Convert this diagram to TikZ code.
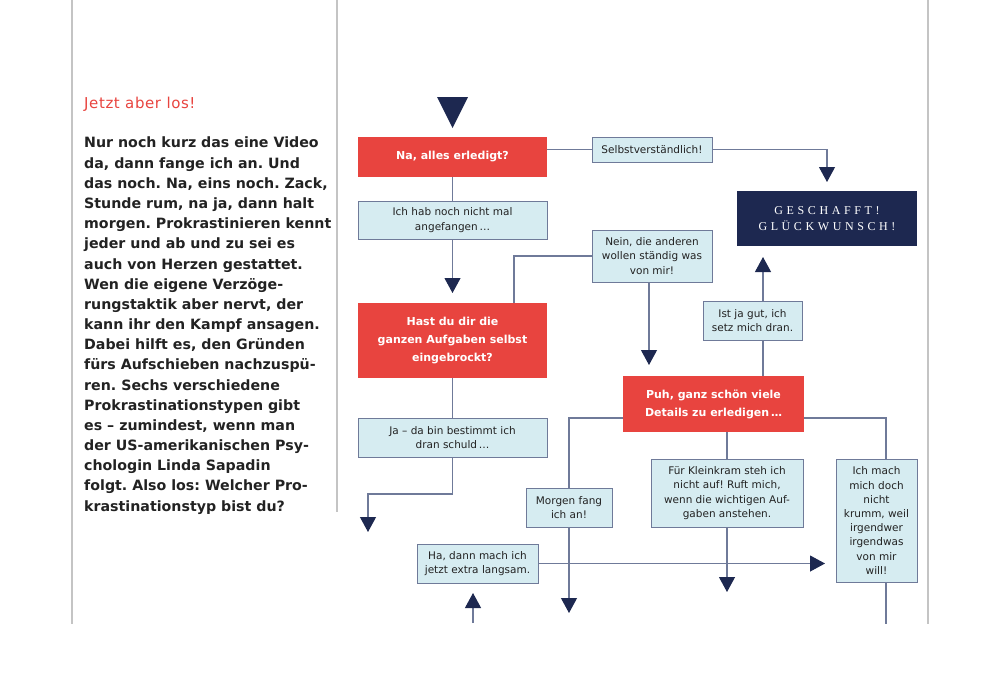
\documentclass[tikz,border=0pt]{standalone}
\usepackage{fontspec}
\setmainfont{DejaVu Sans}
\newfontfamily\capsserif[LetterSpace=30]{Liberation Serif}
\usetikzlibrary{arrows.meta, positioning}
\definecolor{alarm}{HTML}{E8443F}
\definecolor{pale}{HTML}{D6ECF1}
\definecolor{edge}{HTML}{6F7A99}
\definecolor{navy}{HTML}{1D2850}
\definecolor{rule}{HTML}{C4C4C4}
\definecolor{ink}{HTML}{222222}
\frenchspacing

\begin{document}
\begin{tikzpicture}[
      x=1pt, y=-1pt,
      box/.style={inner sep=0pt, outer sep=0pt, align=center},
      reply/.style={box, draw=edge, line width=1pt, fill=pale, text=ink,
        font=\fontsize{10.5}{14.2}\selectfont},
      ask/.style={box, fill=alarm, text=white,
        font=\bfseries\fontsize{11}{18}\selectfont},
      goal/.style={box, fill=navy, text=white,
        font=\capsserif\fontsize{12}{16}\selectfont},
      link/.style={draw=edge, line width=1.1pt},
      arr/.style={link, -{Triangle[width=16pt, length=15pt, color=navy]}},
      frame/.style={draw=rule, line width=1.2pt},
    ]
    \useasboundingbox (0,0) rectangle (1000,694);
    \foreach \x/\y in {72/624, 337/512, 928/624}
      \draw[frame] (\x,0) -- (\x,\y);

    \node[anchor=base west, inner sep=0pt, text=alarm,
      font=\fontsize{15}{20}\selectfont\addfontfeatures{LetterSpace=4}] (head) at (84,108) {Jetzt aber los!};
    \node[anchor=north west, inner sep=0pt, align=left, text=ink,
      font=\bfseries\fontsize{14.2}{20.17}\selectfont] (intro) at (84,137)
      {Nur noch kurz das eine Video\\da, dann fange ich an. Und\\das noch. Na, eins noch. Zack,\\Stunde rum, na ja, dann halt\\morgen. Prokrastinieren kennt\\jeder und ab und zu sei es\\auch von Herzen gestattet.\\Wen die eigene Verzöge-\\rungstaktik aber nervt, der\\kann ihr den Kampf ansagen.\\Dabei hilft es, den Gründen\\fürs Aufschieben nachzuspü-\\ren. Sechs verschiedene\\Prokrastinationstypen gibt\\es – zumindest, wenn man\\der US-amerikanischen Psy-\\chologin Linda Sapadin\\folgt. Also los: Welcher Pro-\\krastinationstyp bist du?};

    \fill[navy] (437,97) -- (468,97) -- (452.5,128) -- cycle;

    \node[ask, minimum width=189pt, minimum height=40pt] (na) at (452.5,157) {Na, alles erledigt?};
    \node[reply, minimum width=120pt, minimum height=25pt] (selbst) at (652,149.5) {Selbstverständlich!};
    \node[goal, minimum width=180pt, minimum height=55pt] (done) at (827,218.5) {GESCHAFFT!\\GLÜCKWUNSCH!};
    \node[reply, minimum width=189pt, minimum height=38pt] (ichhab) at (452.5,220) {Ich hab noch nicht mal\\angefangen\,…};
    \node[reply, minimum width=120pt, minimum height=52pt] (nein) at (652,256) {Nein, die anderen\\wollen ständig was\\von mir!};
    \node[ask, minimum width=189pt, minimum height=75pt] (hast) at (452.5,340.5) {Hast du dir die\\ganzen Aufgaben selbst\\eingebrockt?};
    \node[reply, minimum width=99pt, minimum height=39pt] (istja) at (752.5,320.5) {Ist ja gut, ich\\setz mich dran.};
    \node[ask, minimum width=181pt, minimum height=56pt] (puh) at (713.5,404) {Puh, ganz schön viele\\Details zu erledigen\,…};
    \node[reply, minimum width=189pt, minimum height=39pt] (ja) at (452.5,437.5) {Ja – da bin bestimmt ich\\dran schuld\,…};
    \node[reply, minimum width=86pt, minimum height=39pt] (morgen) at (569,507.5) {Morgen fang\\ich an!};
    \node[reply, minimum width=152pt, minimum height=68pt] (klein) at (727,493) {Für Kleinkram steh ich\\nicht auf! Ruft mich,\\wenn die wichtigen Auf-\\gaben anstehen.};
    \node[reply, minimum width=81pt, minimum height=123pt] (ichmach) at (876.5,520.5) {Ich mach\\mich doch\\nicht\\krumm, weil\\irgendwer\\irgendwas\\von mir\\will!};
    \node[reply, minimum width=121pt, minimum height=39pt] (ha) at (477.5,563.5) {Ha, dann mach ich\\jetzt extra langsam.};

    \coordinate (jaEnd) at (368,532);
    \coordinate (morgenEnd) at (569,613);
    \coordinate (kleinEnd) at (727,592);
    \coordinate (ichmachEnd) at (886,624);
    \coordinate (haStart) at (473,623);

    \draw[link] (na) -- (ichhab);
    \draw[link] (selbst.west) -- (selbst.west -| na.east);
    \draw[arr, shorten >=9pt] (selbst.east) -| (done.north);
    \draw[arr, shorten >=10pt] (ichhab) -- (hast);
    \draw[link] (nein.west) -| ([xshift=61.5pt]hast.north);
    \draw[arr, shorten >=11pt] ([xshift=-3pt]nein.south) -- ([xshift=-3pt]nein.south |- puh.north);
    \draw[link] ([xshift=49.5pt]puh.north) -- ([xshift=49.5pt]puh.north |- istja.south);
    \draw[arr, shorten >=11pt] ([xshift=10.5pt]istja.north) -- ([xshift=10.5pt]istja.north |- done.south);
    \draw[link] (hast) -- (ja);
    \draw[arr] (ja.south) -- ++(0,37) -| (jaEnd);
    \draw[link] ([yshift=-14pt]puh.west) -| (morgen.north);
    \draw[link] (klein.north |- puh.south) -- (klein.north);
    \draw[link] ([yshift=-14pt]puh.east) -| ([xshift=9.5pt]ichmach.north);
    \draw[arr] (morgen.south) -- (morgenEnd);
    \draw[arr] (klein.south) -- (kleinEnd);
    \draw[link] ([xshift=9.5pt]ichmach.south) -- (ichmachEnd);
    \draw[arr, shorten >=11pt] (ha.east) -- (ha.east -| ichmach.west);
    \draw[arr, shorten >=10pt] (haStart) -- (haStart |- ha.south);
  \end{tikzpicture}
\end{document}
